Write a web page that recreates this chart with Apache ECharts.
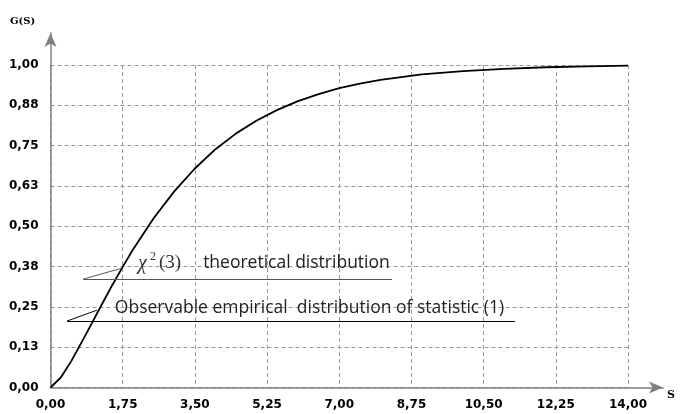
<!DOCTYPE html>
<html>
<head>
<meta charset="utf-8">
<script src="https://cdn.jsdelivr.net/npm/echarts@6/dist/echarts.min.js"></script>
<style>
  html, body { margin: 0; padding: 0; background: #fff; }
  #chart { width: 684px; height: 414px; }
</style>
</head>
<body>
<div id="chart"></div>
<script>
// values
var sValues = [0, 0.25, 0.5, 0.75, 1, 1.25, 1.5, 1.75, 2, 2.5, 3, 3.5, 4, 4.5, 5, 5.5, 6, 6.5, 7, 7.5, 8, 9, 10, 11, 12, 13, 14];
var gValues = [0, 0.031, 0.081, 0.139, 0.199, 0.259, 0.318, 0.374, 0.428, 0.525, 0.608, 0.679, 0.739, 0.788, 0.828, 0.861, 0.888, 0.91, 0.928, 0.942, 0.954, 0.971, 0.981, 0.988, 0.993, 0.996, 0.998];
var xTicks = [0, 1.75, 3.5, 5.25, 7, 8.75, 10.5, 12.25, 14];
var yTicks = [0, 0.125, 0.25, 0.375, 0.5, 0.625, 0.75, 0.875, 1];

// callouts: underline + leader line, in data coordinates
var callout1 = { start: [0.79, 0.336], end: [8.28, 0.336], tip: [1.73, 0.370] };
var callout2 = { start: [0.40, 0.206], end: [11.26, 0.206], tip: [1.13, 0.240] };

function comma(v) {
  return v.toFixed(2).replace('.', ',');
}

var chart = echarts.init(document.getElementById('chart'));

var lineData = sValues.map(function (s, i) { return [s, gValues[i]]; });

var option = {
  animation: false,
  grid: [
    { left: 50.5, right: 56, top: 65, bottom: 26.5 },   // plot
    { left: 50.5, right: 21, top: 33, bottom: 26.5 }    // axes with arrows
  ],
  xAxis: [
    {
      type: 'value', gridIndex: 0, min: 0, max: 14, interval: 1.75,
      axisLine: { show: false },
      axisTick: { show: false },
      axisLabel: {
        margin: 11, color: '#000', fontFamily: 'DejaVu Sans', fontWeight: 'bold', fontSize: 12,
        formatter: comma
      },
      splitLine: { show: true, lineStyle: { color: '#999', type: [4, 3], width: 1 } }
    },
    {
      type: 'value', gridIndex: 1, min: 0, max: 1,
      axisLine: { show: true, symbol: ['none', 'arrow'], symbolSize: [9, 14], lineStyle: { color: '#808080', width: 1.5 } },
      axisTick: { show: false }, axisLabel: { show: false }, splitLine: { show: false }
    }
  ],
  yAxis: [
    {
      type: 'value', gridIndex: 0, min: 0, max: 1, interval: 0.125,
      axisLine: { show: false },
      axisTick: { show: false },
      axisLabel: {
        margin: 12, color: '#000', fontFamily: 'DejaVu Sans', fontWeight: 'bold', fontSize: 12,
        formatter: comma
      },
      splitLine: { show: true, lineStyle: { color: '#999', type: [4, 3], width: 1 } }
    },
    {
      type: 'value', gridIndex: 1, min: 0, max: 1,
      axisLine: { show: true, symbol: ['none', 'arrow'], symbolSize: [9, 14], lineStyle: { color: '#808080', width: 1.5 } },
      axisTick: { show: false }, axisLabel: { show: false }, splitLine: { show: false }
    }
  ],
  series: [
    {
      type: 'line',
      xAxisIndex: 0, yAxisIndex: 0,
      data: lineData,
      smooth: false,
      showSymbol: false,
      lineStyle: { color: '#000', width: 1.8, join: 'round' },
      markLine: {
        silent: true,
        symbol: 'none',
        label: { show: false },
        lineStyle: { type: 'solid', width: 1 },
        data: [
          [{ coord: callout1.start, lineStyle: { color: '#555' } }, { coord: callout1.end }],
          [{ coord: callout1.start, lineStyle: { color: '#555' } }, { coord: callout1.tip }],
          [{ coord: callout2.start, lineStyle: { color: '#000' } }, { coord: callout2.end }],
          [{ coord: callout2.start, lineStyle: { color: '#000' } }, { coord: callout2.tip }]
        ]
      }
    }
  ]
};

chart.setOption(option);

// texts placed from data coordinates
function px(c) { return chart.convertToPixel({ gridIndex: 0 }, c); }
var p1 = px([2.12, 0.385]);
var p1b = px([3.70, 0.385]);
var p2 = px([1.56, 0.246]);

chart.setOption({
  graphic: [
    { type: 'text', left: 10, top: 16, style: { text: 'G(S)', font: 'bold 10px "DejaVu Serif"', fill: '#000' } },
    { type: 'text', left: 667, top: 390, style: { text: 'S', font: 'bold 11px "DejaVu Serif"', fill: '#000' } },
    { type: 'text', x: p1[0], y: p1[1], style: { text: 'χ', font: 'italic 20px "Liberation Serif"', fill: '#333', verticalAlign: 'middle' } },
    { type: 'text', x: p1[0] + 12, y: p1[1] - 6, style: { text: '2', font: '12px "Liberation Serif"', fill: '#333', verticalAlign: 'middle' } },
    { type: 'text', x: p1[0] + 21, y: p1[1], style: { text: '(3)', font: '19px "Liberation Serif"', fill: '#333', verticalAlign: 'middle' } },
    { type: 'text', x: p1b[0], y: p1b[1], style: { text: 'theoretical distribution', font: '17.5px "Open Sans"', fill: '#222', verticalAlign: 'middle' } },
    { type: 'text', x: p2[0], y: p2[1], style: { text: 'Observable empirical  distribution of statistic (1)', font: '17.5px "Open Sans"', fill: '#222', verticalAlign: 'middle' } }
  ]
});
</script>
</body>
</html>
